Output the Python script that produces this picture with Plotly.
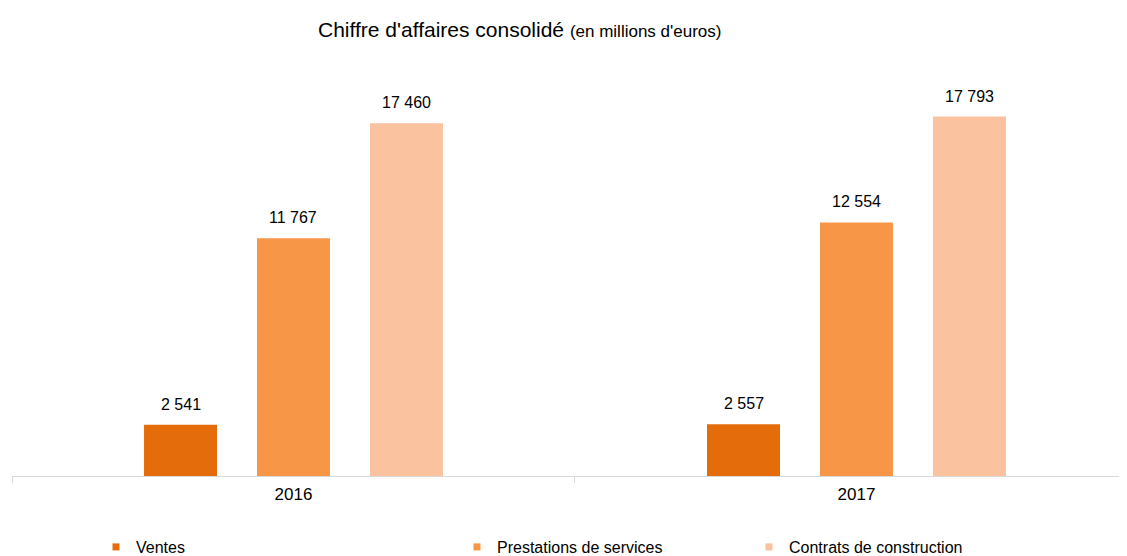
import plotly.graph_objects as go

years = ["2016", "2017"]
series_names = ["Ventes", "Prestations de services", "Contrats de construction"]
ventes = [2541, 2557]
prestations = [11767, 12554]
contrats = [17460, 17793]
colors = ["#E46C0A", "#F79646", "#FAC29E"]

values = [ventes, prestations, contrats]

def fmt(v):
    return f"{v:,}".replace(",", " ")

# the page body has an 8px margin, so the figure is 8px smaller than the window
W, H = 1119, 548
FONT = "Liberation Sans, Arial, sans-serif"
fig = go.Figure()
for k, (name, vals, col) in enumerate(zip(series_names, values, colors)):
    fig.add_trace(go.Bar(
        x=years, y=vals, name=name, marker=dict(color=col, line=dict(width=0)),
        showlegend=False, hoverinfo="x+y",
    ))

# legend-only entries (small square markers)
legend_x = [88 / W, 449 / W, 741 / W]
for k, (name, col) in enumerate(zip(series_names, colors)):
    lg = "legend" if k == 0 else f"legend{k+1}"
    fig.add_trace(go.Scatter(
        x=[None], y=[None], mode="markers", name=name,
        marker=dict(symbol="square", size=7, color=col),
        showlegend=True, legend=lg,
    ))

offsets = [-0.2, 0.0, 0.2]
annotations = []
for k, vals in enumerate(values):
    for i, v in enumerate(vals):
        annotations.append(dict(
            x=i + offsets[k], y=v, xref="x", yref="y", text=fmt(v),
            showarrow=False, yanchor="bottom", yshift=10,
            font=dict(family=FONT, size=16, color="#000000"),
        ))

legend_common = dict(
    orientation="h", yref="container", xref="container", y=1 - 539 / H,
    yanchor="middle", xanchor="left", font=dict(family=FONT, size=16, color="#000000"),
    bgcolor="rgba(0,0,0,0)", itemwidth=30, tracegroupgap=0,
)

fig.update_layout(
    width=W, height=H,
    margin=dict(l=4, r=0, t=64, b=80, autoexpand=False),
    paper_bgcolor="white", plot_bgcolor="white",
    barmode="group", bargap=0.398, bargroupgap=0.354,
    title=dict(
        text="Chiffre d'affaires consolidé <span style='font-size:17px'>(en millions d'euros)</span>",
        x=310 / W, xanchor="left", xref="container",
        y=1 - 22 / H, yanchor="middle", yref="container",
        font=dict(family=FONT, size=21, color="#000000"),
    ),
    xaxis=dict(
        type="category", range=[-0.5, 1.4805], showline=True, linecolor="#D9D9D9",
        linewidth=1, ticks="outside", ticklen=6, tickcolor="#D9D9D9", tickson="boundaries",
        showgrid=False, zeroline=False, automargin=False, ticklabelstandoff=3,
        tickfont=dict(family=FONT, size=17, color="#000000"),
    ),
    yaxis=dict(visible=False, range=[0, 20000], showgrid=False, zeroline=False),
    annotations=annotations,
    legend=dict(x=legend_x[0], **legend_common),
    legend2=dict(x=legend_x[1], **legend_common),
    legend3=dict(x=legend_x[2], **legend_common),
    showlegend=True,
)

fig.write_html("out.html")
